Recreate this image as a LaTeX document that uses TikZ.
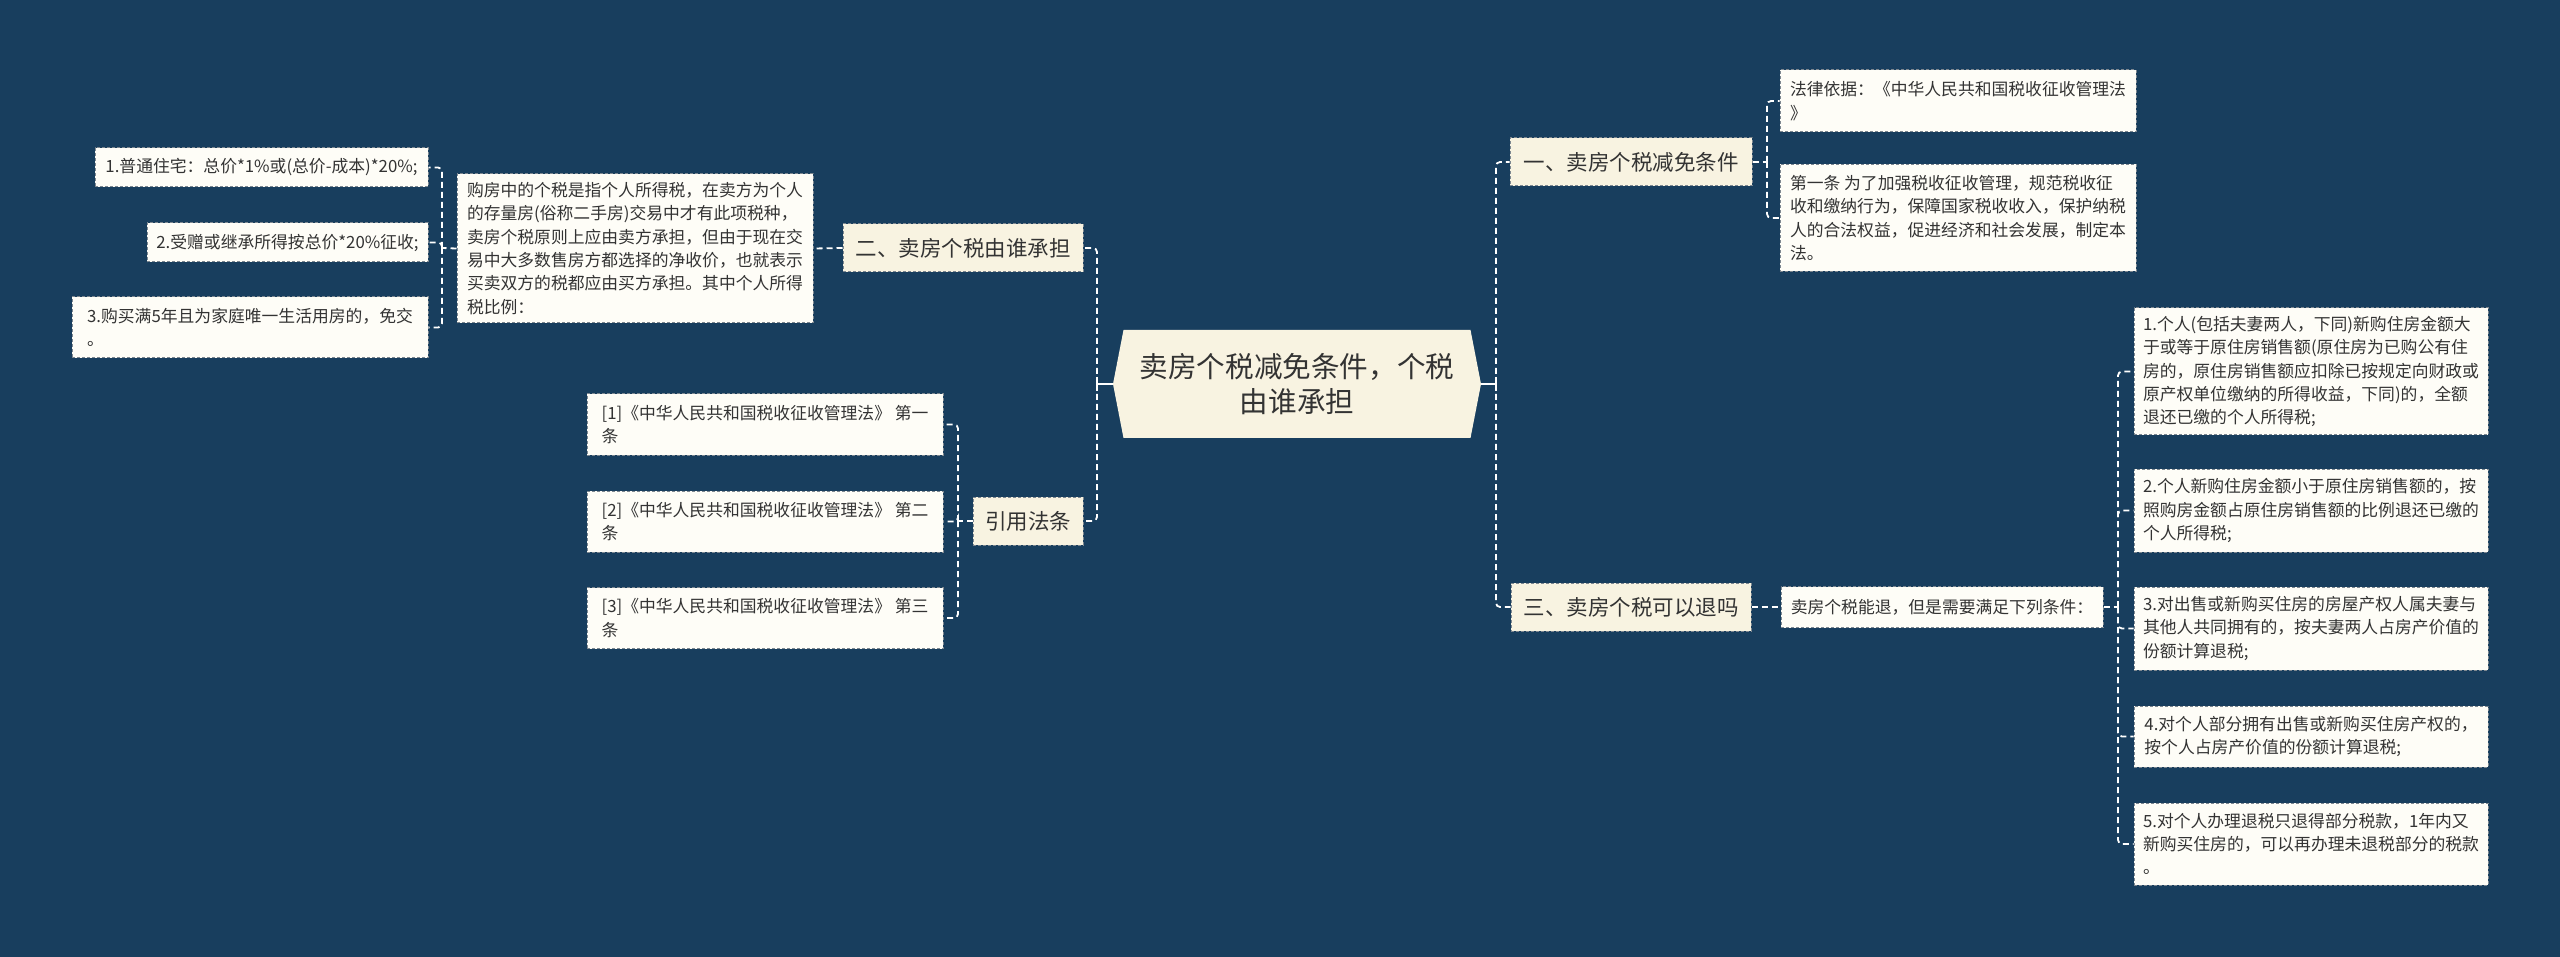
\documentclass[tikz,border=0pt]{standalone}
\usepackage{fontspec}
\setmainfont{Noto Sans CJK SC}
\usetikzlibrary{shapes.symbols}

\definecolor{bgnavy}{HTML}{183E5E}
\definecolor{cream}{HTML}{F8F3E1}
\definecolor{leaffill}{HTML}{FEFDF7}
\definecolor{boxline}{HTML}{7D8790}
\definecolor{inkgray}{HTML}{333333}

\begin{document}
\begin{tikzpicture}[x=1pt, y=-1pt,
  leaf/.style={draw=boxline, dash pattern=on 3pt off 2pt, line width=1pt,
               fill=leaffill, text=inkgray, inner sep=0pt, align=left,
               font=\fontsize{16.8}{23.3}\selectfont},
  branch/.style={leaf, fill=cream, align=center,
                 font=\fontsize{21.5}{26}\selectfont},
  rootbox/.style={signal, signal to=west and east, signal pointer angle=158,
                  fill=cream, text=inkgray, inner sep=0pt, align=center,
                  font=\fontsize{28.6}{35}\selectfont},
  link/.style={draw=white, line width=1.8pt, dash pattern=on 6pt off 4pt,
               rounded corners=4pt},
  stub/.style={draw=white, line width=1.8pt}
]
  \fill[bgnavy] (0,0) rectangle (2560,957);
  \useasboundingbox (0,0) rectangle (2560,957);

  % centre
  \node[rootbox, minimum width=368pt, minimum height=108pt] (root) at (1297,384)
    {卖房个税减免条件，个税\\由谁承担};

  % left side
  \node[branch, minimum width=240pt, minimum height=48pt] (two) at (963,248) {二、卖房个税由谁承担};
  \node[branch, minimum width=110pt, minimum height=48pt] (cite) at (1028,521) {引用法条};
  \node[leaf, minimum width=356pt, minimum height=149pt] (desc) at (635,248.5)
    {购房中的个税是指个人所得税，在卖方为个人\\
     的存量房(俗称二手房)交易中才有此项税种，\\
     卖房个税原则上应由卖方承担，但由于现在交\\
     易中大多数售房方都选择的净收价，也就表示\\
     买卖双方的税都应由买方承担。其中个人所得\\
     税比例：};
  \node[leaf, minimum width=333pt, minimum height=39pt] (rateA) at (261.5,167.5)
    {1.普通住宅：总价*1\%或(总价-成本)*20\%;};
  \node[leaf, minimum width=281pt, minimum height=39pt] (rateB) at (287.5,242.5)
    {2.受赠或继承所得按总价*20\%征收;};
  \node[leaf, minimum width=356pt, minimum height=61pt] (rateC) at (250,327.5)
    {3.购买满5年且为家庭唯一生活用房的，免交\\。};
  \node[leaf, minimum width=356pt, minimum height=61pt] (refA) at (765,424.5)
    {[1]《中华人民共和国税收征收管理法》 第一\\条};
  \node[leaf, minimum width=356pt, minimum height=61pt] (refB) at (765,521.5)
    {[2]《中华人民共和国税收征收管理法》 第二\\条};
  \node[leaf, minimum width=356pt, minimum height=61pt] (refC) at (765,618)
    {[3]《中华人民共和国税收征收管理法》 第三\\条};

  % right side
  \node[branch, minimum width=242pt, minimum height=48pt] (one) at (1631,162) {一、卖房个税减免条件};
  \node[branch, minimum width=240pt, minimum height=48pt] (three) at (1631,607) {三、卖房个税可以退吗};
  \node[leaf, minimum width=356pt, minimum height=62pt] (law) at (1958,101)
    {法律依据：《中华人民共和国税收征收管理法\\》};
  \node[leaf, minimum width=356pt, minimum height=107pt] (art) at (1958,218)
    {第一条 为了加强税收征收管理，规范税收征\\
     收和缴纳行为，保障国家税收收入，保护纳税\\
     人的合法权益，促进经济和社会发展，制定本\\
     法。};
  \node[leaf, minimum width=322pt, minimum height=41pt] (canret) at (1942,607)
    {卖房个税能退，但是需要满足下列条件：};
  \node[leaf, minimum width=354pt, minimum height=127pt] (condA) at (2311,371.5)
    {1.个人(包括夫妻两人，下同)新购住房金额大\\
     于或等于原住房销售额(原住房为已购公有住\\
     房的，原住房销售额应扣除已按规定向财政或\\
     原产权单位缴纳的所得收益，下同)的，全额\\
     退还已缴的个人所得税;};
  \node[leaf, minimum width=354pt, minimum height=83pt] (condB) at (2311,510.5)
    {2.个人新购住房金额小于原住房销售额的，按\\
     照购房金额占原住房销售额的比例退还已缴的\\
     个人所得税;};
  \node[leaf, minimum width=354pt, minimum height=83pt] (condC) at (2311,628.5)
    {3.对出售或新购买住房的房屋产权人属夫妻与\\
     其他人共同拥有的，按夫妻两人占房产价值的\\
     份额计算退税;};
  \node[leaf, minimum width=354pt, minimum height=61pt] (condD) at (2311,736.5)
    {4.对个人部分拥有出售或新购买住房产权的，\\
     按个人占房产价值的份额计算退税;};
  \node[leaf, minimum width=354pt, minimum height=82pt] (condE) at (2311,844)
    {5.对个人办理退税只退得部分税款，1年内又\\
     新购买住房的，可以再办理未退税部分的税款\\
     。};

  % spines
  \coordinate (sL) at (1097,384);
  \coordinate (sR) at (1496,384);
  \coordinate (sA) at (442,248);
  \coordinate (sC) at (958,521);
  \coordinate (sD) at (1767,162);
  \coordinate (sE) at (2118,607);

  % connectors
  \draw[stub] (root.west) -- (sL);
  \draw[stub] ([yshift=7pt]sL) -- ([yshift=-7pt]sL);
  \draw[stub] (root.east) -- (sR);
  \draw[stub] ([yshift=7pt]sR) -- ([yshift=-7pt]sR);
  \draw[link] (sL) |- (two.east);
  \draw[link] (sL) |- (cite.east);
  \draw[link] (sR) |- (one.west);
  \draw[link] (sR) |- (three.west);

  \draw[link] (two.west) -- (desc.east);
  \draw[link] (desc.west) -- (sA);
  \draw[link] (sA) |- (rateA.east);
  \draw[link] (sA) |- (rateB.east);
  \draw[link] (sA) |- (rateC.east);

  \draw[link] (cite.west) -- (sC);
  \draw[link] (sC) |- (refA.east);
  \draw[link] (sC) |- (refB.east);
  \draw[link] (sC) |- (refC.east);

  \draw[link] (one.east) -- (sD);
  \draw[link] (sD) |- (law.west);
  \draw[link] (sD) |- (art.west);

  \draw[link] (three.east) -- (canret.west);
  \draw[link] (canret.east) -- (sE);
  \draw[link] (sE) |- (condA.west);
  \draw[link] (sE) |- (condB.west);
  \draw[link] (sE) |- (condC.west);
  \draw[link] (sE) |- (condD.west);
  \draw[link] (sE) |- (condE.west);
\end{tikzpicture}
\end{document}
